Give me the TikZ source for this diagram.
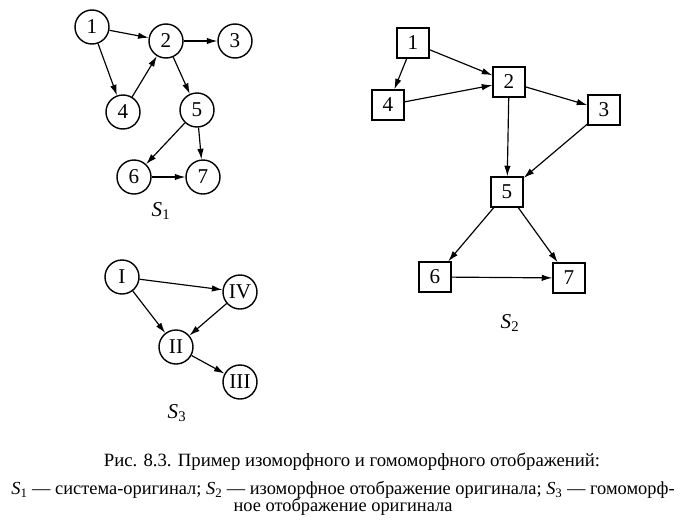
\documentclass[tikz,border=0pt]{standalone}
\usepackage{fontspec}
\setmainfont{Liberation Serif}
\usepackage{tikz}
\usetikzlibrary{arrows.meta}
\newcommand{\sysname}[1]{\textit{S}\textsubscript{#1}}
\tikzset{ vtx/.style ={draw=black, circle, line width=1.2pt, minimum size=1.02cm, inner sep=0pt, font=\fontsize{18}{20}\selectfont} }
\tikzset{ blk/.style ={draw=black, rectangle, line width=1.2pt, minimum width=0.96cm, minimum height=0.9cm, inner sep=0pt, font=\fontsize{18}{20}\selectfont} }
\tikzset{ edge/.style={-{Latex[length=9pt,width=5.5pt]}, line width=1pt} }
\tikzset{ lbl/.style ={font=\fontsize{18}{20}\selectfont} }
\begin{document}
\begin{tikzpicture}[x=0.03cm, y=-0.03cm]
    \useasboundingbox (0,0) rectangle (694,521);

    % S1
    \node[vtx] (s1_n1) at ( 92, 27) {1};
    \node[vtx] (s1_n2) at (166, 41) {2};
    \node[vtx] (s1_n3) at (235, 41) {3};
    \node[vtx] (s1_n4) at (123,112) {4};
    \node[vtx] (s1_n5) at (197,110) {5};
    \node[vtx] (s1_n6) at (134,177) {6};
    \node[vtx] (s1_n7) at (203,177) {7};

    \draw[edge] (s1_n1) -- (s1_n2);
    \draw[edge] (s1_n1) -- (s1_n4);
    \draw[edge] (s1_n4) -- (s1_n2);
    \draw[edge] (s1_n2) -- (s1_n3);
    \draw[edge] (s1_n2) -- (s1_n5);
    \draw[edge] (s1_n5) -- (s1_n6);
    \draw[edge] (s1_n5) -- (s1_n7);
    \draw[edge] (s1_n6) -- (s1_n7);

    \node[lbl] (s1_lbl) at (161,211) {\sysname{1}};

    % S2
    \node[blk] (s2_n1) at (413, 43) {1};
    \node[blk] (s2_n2) at (509, 82) {2};
    \node[blk] (s2_n3) at (604,110) {3};
    \node[blk] (s2_n4) at (388,105) {4};
    \node[blk] (s2_n5) at (507,192) {5};
    \node[blk] (s2_n6) at (435,277) {6};
    \node[blk] (s2_n7) at (569,278) {7};

    \draw[edge] (s2_n1) -- (s2_n2);
    \draw[edge] (s2_n1) -- (s2_n4);
    \draw[edge] (s2_n4) -- (s2_n2);
    \draw[edge] (s2_n2) -- (s2_n3);
    \draw[edge] (s2_n2) -- (s2_n5);
    \draw[edge] (s2_n3) -- (s2_n5);
    \draw[edge] (s2_n5) -- (s2_n6);
    \draw[edge] (s2_n5) -- (s2_n7);
    \draw[edge] (s2_n6) -- (s2_n7);

    \node[lbl] (s2_lbl) at (510,323) {\sysname{2}};

    % S3
    \node[vtx] (s3_n1) at (122,277) {I};
    \node[vtx] (s3_n4) at (240,292) {IV};
    \node[vtx] (s3_n2) at (176,347) {II};
    \node[vtx] (s3_n3) at (240,382) {III};

    \draw[edge] (s3_n1) -- (s3_n4);
    \draw[edge] (s3_n1) -- (s3_n2);
    \draw[edge] (s3_n4) -- (s3_n2);
    \draw[edge] (s3_n2) -- (s3_n3);

    \node[lbl] (s3_lbl) at (177,413) {\sysname{3}};

    % caption
    \node[font=\fontsize{16}{19}\selectfont] (cap1) at (352,462) {Рис. 8.3. Пример изоморфного и гомоморфного отображений:};
    \node[font=\fontsize{15.7}{18}\selectfont] (cap2) at (343,490) {\sysname{1} — система-оригинал; \sysname{2} — изоморфное отображение оригинала; \sysname{3} — гомоморф-};
    \node[font=\fontsize{15.7}{18}\selectfont] (cap3) at (343,507) {ное отображение оригинала};
\end{tikzpicture}
\end{document}
